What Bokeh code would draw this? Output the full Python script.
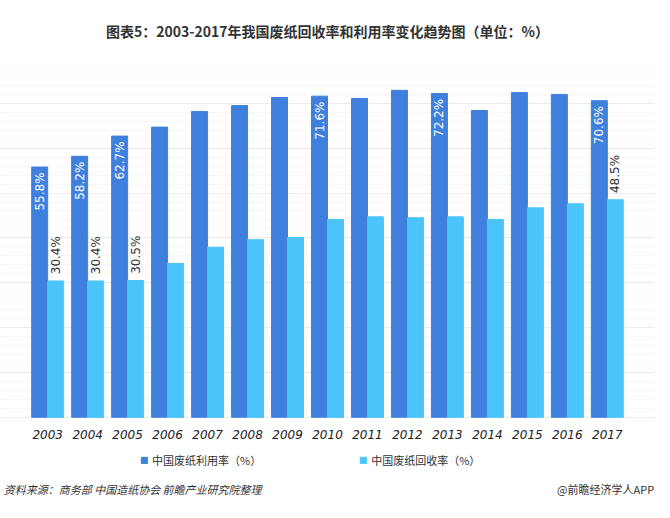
import numpy as np
from bokeh.plotting import figure
from bokeh.models import ColumnDataSource, Legend, LegendItem, FixedTicker, FactorRange
from bokeh.transform import dodge
from bokeh.core.properties import value
from bokeh.embed import file_html
from bokeh.resources import INLINE

years = [str(y) for y in range(2003, 2018)]
utilization = [55.8, 58.2, 62.7, 64.7, 68.2, 69.5, 71.3, 71.6, 71.1, 72.9, 72.2, 68.4, 72.4, 72.0, 70.6]
recovery = [30.4, 30.4, 30.5, 34.3, 37.9, 39.6, 40.1, 44.1, 44.7, 44.5, 44.7, 44.1, 46.7, 47.6, 48.5]
util_labeled = ["2003", "2004", "2005", "2010", "2013", "2017"]
rec_labeled = ["2003", "2004", "2005", "2017"]
grid_ticks = list(range(0, 81, 10))
minor_ticks = list(range(0, 81, 2))

FONT = "Noto Sans CJK SC"
DARK = "#3F80DD"
LIGHT = "#4BC4FA"

source = ColumnDataSource(data=dict(years=years, util=utilization, rec=recovery))
ui = [years.index(y) for y in util_labeled]
ri = [years.index(y) for y in rec_labeled]
util_src = ColumnDataSource(data=dict(
    years=util_labeled, y=[utilization[i] - 1.2 for i in ui],
    t=["%.1f%%" % utilization[i] for i in ui]))
rec_src = ColumnDataSource(data=dict(
    years=rec_labeled, y=[recovery[i] + 1.5 for i in ri],
    t=["%.1f%%" % recovery[i] for i in ri]))

x_range = FactorRange(factors=years, range_padding=0.68, range_padding_units="absolute")
p = figure(x_range=x_range, y_range=(-19, 80), width=654, height=502,
           output_backend="svg", toolbar_location=None,
           min_border_left=0, min_border_right=0, min_border_top=6,
           min_border_bottom=0)
p.title.text = "图表5：2003-2017年我国废纸回收率和利用率变化趋势图（单位：%）"
p.title.align = "center"
p.title.text_font = FONT
p.title.text_font_size = "14px"
p.title.text_color = "#333333"
p.title.standoff = 36

r1 = p.vbar(x=dodge("years", -0.2, range=p.x_range), top="util", width=0.4,
            source=source, color=DARK)
r2 = p.vbar(x=dodge("years", 0.2, range=p.x_range), top="rec", width=0.4,
            source=source, color=LIGHT)

p.text(x=dodge("years", -0.2, range=p.x_range), y="y", text="t", source=util_src,
       angle=np.pi / 2, text_align="right", text_baseline="middle",
       text_color="white", text_font=value("DejaVu Sans"), text_font_size="12px")
p.text(x=dodge("years", 0.2, range=p.x_range), y="y", text="t", source=rec_src,
       angle=np.pi / 2, text_align="left", text_baseline="middle",
       text_color="#333333", text_font=value("DejaVu Sans"), text_font_size="12px")

# year labels under the bars
p.text(x="years", y=-3.8, text="years", source=source, text_align="center",
       text_baseline="middle", text_font=value("DejaVu Sans"), text_font_size="12px",
       text_font_style="italic", text_color="#222222")

# footer
p.text(x=dodge("x", -1.1, range=p.x_range), y=-16.1, text="t",
       source=ColumnDataSource(data=dict(x=[years[0]], t=["资料来源：商务部 中国造纸协会 前瞻产业研究院整理"])),
       text_align="left", text_baseline="middle", text_font=value(FONT),
       text_font_size="11px", text_font_style="italic", text_color="#333333")
p.text(x=dodge("x", 1.17, range=p.x_range), y=-16.1, text="t",
       source=ColumnDataSource(data=dict(x=[years[-1]], t=["@前瞻经济学人APP"])),
       text_align="right", text_baseline="middle", text_font=value(FONT),
       text_font_size="11px", text_color="#333333")

p.xaxis.visible = False
p.yaxis.visible = False
p.xgrid.grid_line_color = None
p.ygrid.ticker = FixedTicker(ticks=grid_ticks, minor_ticks=minor_ticks)
p.ygrid.grid_line_color = "#EBEBEB"
p.ygrid.minor_grid_line_color = "#F6F6F6"
p.ygrid.bounds = (0, 80)
p.outline_line_color = None

legend = Legend(items=[LegendItem(label="中国废纸利用率（%）", renderers=[r1]),
                       LegendItem(label="中国废纸回收率（%）", renderers=[r2])],
                orientation="horizontal", location=(140, 34),
                label_text_font=FONT, label_text_font_size="11px",
                label_text_color="#333333", glyph_width=8, glyph_height=8,
                label_standoff=4, spacing=98, padding=4,
                border_line_color=None, background_fill_alpha=0)
p.add_layout(legend)

open("out.html", "w").write(file_html(p, INLINE))
